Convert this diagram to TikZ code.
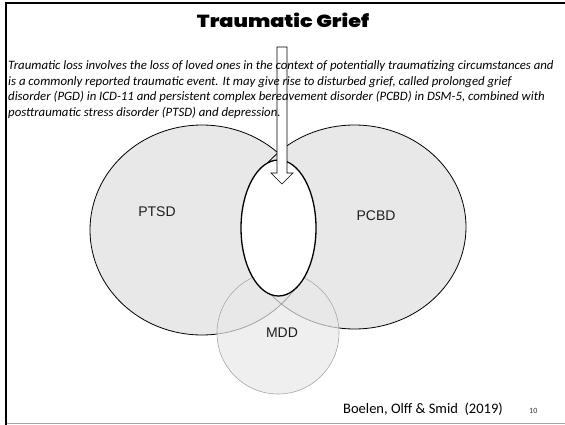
\documentclass[tikz,border=0pt]{standalone}
\usepackage{fontspec}
\usepackage{graphicx}
\setmainfont{Carlito}
\newfontfamily\labelfont{Liberation Sans}
\newfontfamily\titlefont{Poppins Black}
\usetikzlibrary{shapes.geometric}
\definecolor{vennfill}{HTML}{E8E8E8}
\definecolor{mddline}{HTML}{A8A8A8}
\definecolor{labelcol}{HTML}{1E1E1E}
\tikzset{
  venn/.style={ellipse, fill=vennfill, inner sep=0pt},
  vennline/.style={ellipse, draw=black, line width=0.8pt, inner sep=0pt},
  setlabel/.style={font=\labelfont\fontsize{14}{16}\selectfont, text=labelcol},
  introline/.style={anchor=base west, inner sep=0pt, font=\itshape\fontsize{12.8}{15.4}\selectfont},
}
\begin{document}
\begin{tikzpicture}[x=1pt,y=-1pt]
\useasboundingbox (0,0) rectangle (565,425);
% frame
\fill[black] (5,2.3) rectangle (565,4.3);
\fill[black] (5,2.3) rectangle (7.3,425);
\draw[gray!70, line width=1pt] (7.3,423.5) -- (565,423.5);
% title
\node (title) at (283,20) {\resizebox{172pt}{14.5pt}{\titlefont Traumatic Grief}};
% Venn fills
\node[venn, minimum width=224pt, minimum height=210pt] (ptsdfill) at (202,230) {};
\node[venn, minimum width=223pt, minimum height=204pt] (pcbdfill) at (354.5,227) {};
\node[vennline, minimum width=224pt, minimum height=210pt] (ptsd) at (202,230) {};
\node[vennline, minimum width=223pt, minimum height=204pt] (pcbd) at (354.5,227) {};
% MDD
\node[circle, draw=mddline, line width=0.6pt, fill=vennfill, fill opacity=0.7, minimum size=122pt, inner sep=0pt] (mdd) at (278,333) {};
% white ellipse
\node[ellipse, draw=black, line width=1.3pt, fill=white, minimum width=75pt, minimum height=136pt, inner sep=0pt] (grief) at (278.5,228) {};
% labels
\node[setlabel] (ptsdlabel) at (157,212) {PTSD};
\node[setlabel] (pcbdlabel) at (376,216) {PCBD};
\node[setlabel] (mddlabel) at (282,333) {MDD};
% block arrow
\draw[black, line width=0.7pt, fill=white, line join=miter]
  (277,47) -- (287,47) -- (287,173) -- (293,173) -- (282,184) -- (271,173) -- (277,173) -- cycle;
% intro text
\node[introline] (intro1) at (8,70) {Traumatic loss involves the loss of loved ones in the context of potentially traumatizing circumstances and};
\node[introline] (intro2) at (8,85.5) {is a commonly reported traumatic event. It may give rise to disturbed grief, called prolonged grief};
\node[introline] (intro3) at (8,101) {disorder (PGD) in ICD-11 and persistent complex bereavement disorder (PCBD) in DSM-5, combined with};
\node[introline] (intro4) at (8,116.5) {posttraumatic stress disorder (PTSD) and depression.};
% citation
\node[anchor=base west, inner sep=0pt, font=\fontsize{14.5}{16}\selectfont] (cite) at (343,413) {Boelen, Olff \& Smid~~(2019)};
\node[anchor=base west, inner sep=0pt, font=\fontsize{8}{9}\selectfont, text=black!80] (page) at (529,413) {10};
\end{tikzpicture}
\end{document}
